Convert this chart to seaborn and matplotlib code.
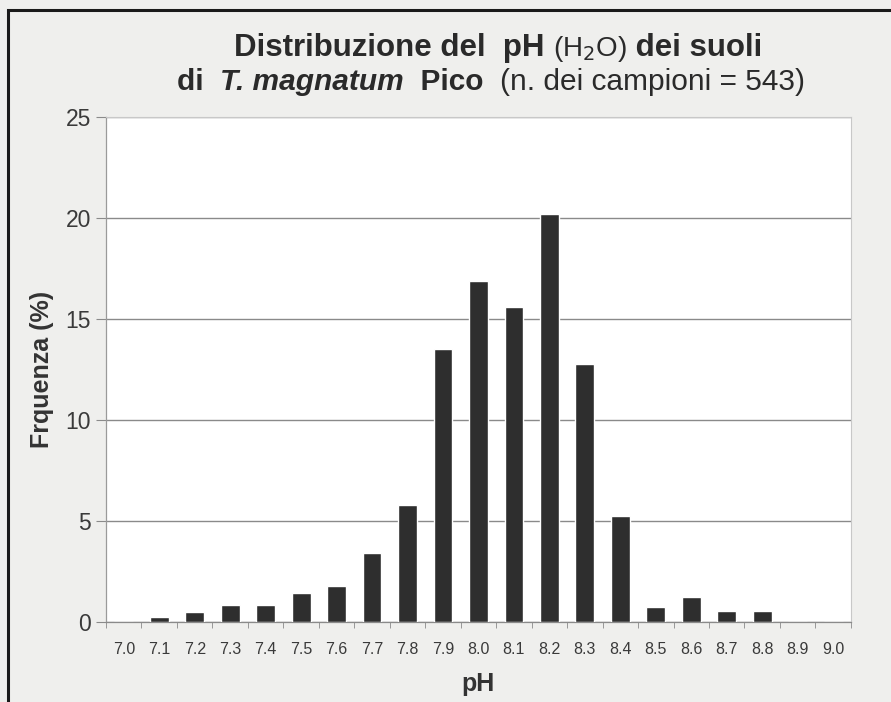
import numpy as np
import pandas as pd
import seaborn as sns
import matplotlib.pyplot as plt
from matplotlib.patches import Rectangle
from matplotlib.ticker import FixedLocator

# pH classes and frequency (%)
ph_classes = ["7.0", "7.1", "7.2", "7.3", "7.4", "7.5", "7.6", "7.7", "7.8", "7.9", "8.0",
              "8.1", "8.2", "8.3", "8.4", "8.5", "8.6", "8.7", "8.8", "8.9", "9.0"]
frequenza = [0, 0.25, 0.5, 0.85, 0.85, 1.45, 1.8, 3.4, 5.8, 13.5, 16.9,
             15.6, 20.2, 12.8, 5.25, 0.75, 1.25, 0.55, 0.55, 0, 0]
y_ticks = [0, 5, 10, 15, 20, 25]

df = pd.DataFrame({"pH": ph_classes, "freq": frequenza})

sns.set_style("white")
plt.rcParams['font.family'] = ['Liberation Sans', 'DejaVu Sans']

fig = plt.figure(figsize=(8.91, 7.02), dpi=100, facecolor="#efefed")
ax = fig.add_axes([0.119, 0.114, 0.836, 0.719])
ax.set_facecolor("white")

sns.barplot(data=df, x="pH", y="freq", color="#2e2e2e", width=0.53, saturation=1,
            ax=ax, zorder=3)

ax.set_ylim(0, 25)
ax.set_xlim(-0.5, len(ph_classes) - 0.5)
ax.set_yticks(y_ticks)
ax.yaxis.grid(True, color="#8a8a8a", linewidth=1.0, zorder=0)
ax.set_axisbelow(True)

for side in ["top", "right"]:
    ax.spines[side].set_color("#c8c8c8")
    ax.spines[side].set_linewidth(0.8)
ax.spines["left"].set_color("#9a9a9a")
ax.spines["bottom"].set_color("#8a8a8a")
ax.spines["left"].set_linewidth(0.9)
ax.spines["bottom"].set_linewidth(0.9)

ax.tick_params(axis="y", which="major", left=True, length=7, color="#8a8a8a",
               labelsize=16.5, labelcolor="#3a3a3a", pad=4)
ax.tick_params(axis="x", which="major", bottom=False, labelsize=11.5,
               labelcolor="#3a3a3a", pad=11)
ax.xaxis.set_minor_locator(FixedLocator(np.arange(-0.5, len(ph_classes), 1)))
ax.tick_params(axis="x", which="minor", bottom=True, length=4, color="#8a8a8a")

ax.set_xlabel("pH", fontsize=18, fontweight="bold", color="#333333", labelpad=11)
ax.set_ylabel("Frquenza (%)", fontsize=18, fontweight="bold", color="#333333", labelpad=8)


def draw_line(parts, y, size, cx):
    # lay out mixed-style title pieces on one line, centred at cx (pixels)
    fig.canvas.draw()
    r = fig.canvas.get_renderer()
    texts = []
    widths = []
    for s, weight, style, fs in parts:
        t = fig.text(0, y, s, fontsize=fs or size, fontweight=weight, fontstyle=style,
                     color="#2a2a2a", ha="left", va="baseline")
        bb = t.get_window_extent(renderer=r)
        texts.append(t)
        widths.append(bb.width)
    total = sum(widths)
    x = cx - total / 2
    for t, w in zip(texts, widths):
        t.set_x(x / fig.bbox.width)
        x += w


draw_line([("Distribuzione del  pH ", "bold", "normal", None),
           ("(H$_2$O)", "normal", "normal", 20),
           (" dei suoli", "bold", "normal", None)], 1 - 56 / 702, 22.5, 498)
draw_line([("di  ", "bold", "normal", None),
           ("T. magnatum", "bold", "italic", None),
           ("  Pico  ", "bold", "normal", None),
           ("(n. dei campioni = 543)", "normal", "normal", None)], 1 - 90 / 702, 21.5, 491)

# scanned page frame
fig.add_artist(Rectangle((8 / 891, -0.1), 1.2, 1 - 10 / 702 + 0.1, transform=fig.transFigure,
                         fill=False, edgecolor="#1a1a1a", linewidth=2.2))

fig.savefig("out.png", dpi=100, facecolor=fig.get_facecolor())
